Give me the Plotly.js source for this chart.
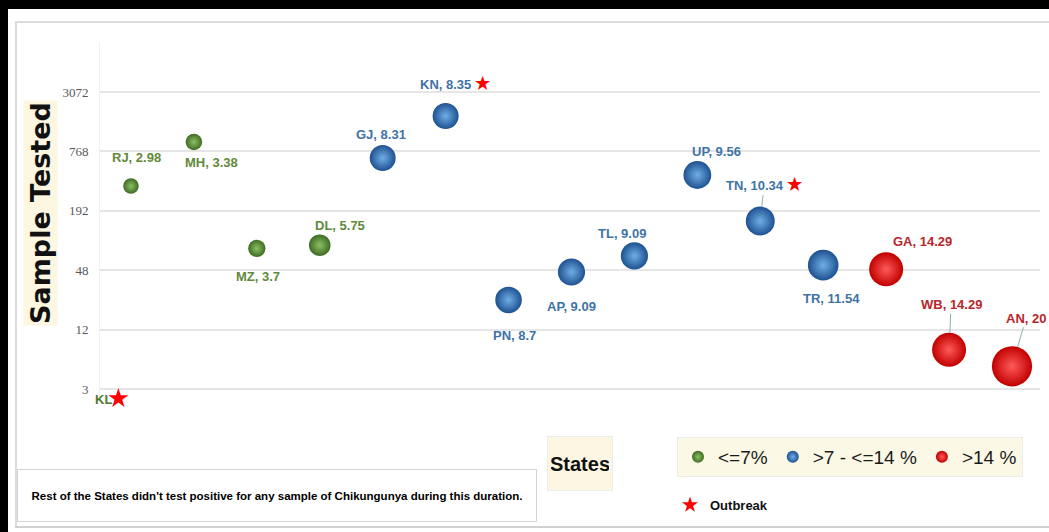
<!DOCTYPE html>
<html><head><meta charset="utf-8">
<script src="https://cdn.plot.ly/plotly-3.0.1.min.js"></script>
<style>
html,body{margin:0;padding:0;background:#fff;}
#wrap{position:relative;width:1049px;height:532px;overflow:hidden;}
#chart{position:absolute;left:0;top:0;width:1049px;height:532px;}
.ov{position:absolute;pointer-events:none;}
</style></head><body>
<div id="wrap">
<div id="chart"></div>
<div class="ov" style="left:0;top:0;width:1049px;height:9px;background:#000"></div>
<div class="ov" style="left:0;top:0;width:8px;height:532px;background:#000"></div>
<div class="ov" style="left:15px;top:21px;width:1034px;height:0;border-top:2px solid #dcdcdc"></div>
<div class="ov" style="left:15px;top:21px;width:0;height:507px;border-left:2px solid #dcdcdc"></div>
<div class="ov" style="left:15px;top:526px;width:1034px;height:0;border-top:2px solid #d0d0d0"></div>
</div>
<script>
// ---- data ----
const states = ['KL','RJ','MH','MZ','DL','GJ','KN','PN','AP','TL','UP','TN','TR','GA','WB','AN'];
const xOrder = [0.8,1,2,3,4,5,6,7,8,9,10,11,12,13,14,15];
const samplesTested = [2.4,342,956,80,86,658,1755,24,46,67,443,151,54,49,7.5,5.1];
const positivity = [null,2.98,3.38,3.7,5.75,8.31,8.35,8.7,9.09,9.09,9.56,10.34,11.54,14.29,14.29,20];
const outbreak = [1,0,0,0,0,0,1,0,0,0,0,1,0,0,0,0];
const yTicks = [3,12,48,192,768,3072];
const groupNames = ['<=7%','>7 - <=14 %','>14 %'];

// ---- styles ----
const SANS = "'Liberation Sans Narrow','Arial Narrow','Liberation Sans',Arial,sans-serif";
const groupStyle = [
  {center:'#8cc063', edge:'#3f6b24', text:'#5f8a3a'},
  {center:'#70aee6', edge:'#1e5190', text:'#3f73a6'},
  {center:'#ff5a5a', edge:'#c20000', text:'#b8262b'}
];
const labelShift = {KL:[-15,1],RJ:[6,-29],MH:[18,20],MZ:[1,28],DL:[20,-20],GJ:[-2,-24],KN:[10,-32],
  PN:[6,36],AP:[0,34],TL:[-12,-22],UP:[19,-23],TN:[4,-37],TR:[8,33],GA:[36,-28],WB:[2,-45],AN:[14,-48]};
const leader = {TN:true,WB:true,AN:true};
const K = 9; // px diameter per sqrt(%)
const sizeref = 2/(K*K);

function groupOf(p){ if(p==null) return -1; return p<=7?0:(p<=14?1:2); }

const traces = [];
groupNames.forEach((g,gi)=>{
  const idx = states.map((s,i)=>i).filter(i=>groupOf(positivity[i])===gi);
  traces.push({
    type:'scatter', mode:'markers', name:g, legend:'legend', cliponaxis:false,
    x: idx.map(i=>xOrder[i]), y: idx.map(i=>samplesTested[i]),
    text: idx.map(i=>states[i]),
    marker:{size: idx.map(i=>positivity[i]), sizemode:'area', sizeref:sizeref, opacity:1,
      color:groupStyle[gi].edge, line:{width:0},
      gradient:{type:'radial', color:groupStyle[gi].center}},
    hoverinfo:'text'
  });
});
const ob = states.map((s,i)=>i).filter(i=>outbreak[i] && positivity[i]==null);
traces.push({
  type:'scatter', mode:'markers', name:'Outbreak', legend:'legend2', cliponaxis:false,
  x: ob.map(i=>xOrder[i]), y: ob.map(i=>samplesTested[i]),
  marker:{symbol:'star', size:15, color:'#ff0000', line:{width:0}}
});

const annotations = states.map((s,i)=>{
  const gi = groupOf(positivity[i]);
  let t = s + (positivity[i]!=null ? ', ' + positivity[i] : '');
  if(outbreak[i] && positivity[i]!=null) t += ' <span style="color:#ff0000;font-size:17px">★</span>';
  const sh = labelShift[s];
  const col = gi<0 ? '#4e7a2e' : groupStyle[gi].text;
  const a = {x:xOrder[i], y:Math.log10(samplesTested[i]), xref:'x', yref:'y', text:t,
    font:{family:SANS, size:13, color:col, weight:'bold'}};
  if(leader[s]){
    const r = positivity[i]!=null ? K*Math.sqrt(positivity[i])/2 : 0;
    Object.assign(a,{showarrow:true, ax:sh[0], ay:sh[1], arrowhead:0, arrowwidth:1,
      arrowcolor:'#8fb0b0', standoff:r});
  } else {
    Object.assign(a,{showarrow:false, xshift:sh[0], yshift:-sh[1], xanchor:'center', yanchor:'middle'});
  }
  return a;
});

// paper coords helpers (plot area: x 100..1040, y 42..400 px)
const px = v => (v-100)/940, py = v => (400-v)/358;

annotations.push({xref:'paper', yref:'paper', x:px(40), y:py(213), showarrow:false,
  text:'Sample Tested', textangle:-90, xanchor:'center', yanchor:'middle',
  font:{family:"'DejaVu Sans',sans-serif", size:27, color:'#111', weight:'bold'},
  bgcolor:'#fdf6e0', borderpad:1});
annotations.push({xref:'paper', yref:'paper', x:px(580), y:py(463), showarrow:false,
  text:'States', xanchor:'center', yanchor:'middle', width:58, height:47,
  font:{family:SANS, size:20, color:'#111', weight:'bold'},
  bgcolor:'#fcf6e2', bordercolor:'#ececec', borderwidth:1, borderpad:3});
annotations.push({xref:'paper', yref:'paper', x:px(277), y:py(495.5), showarrow:false,
  text:"Rest of the States didn't test positive for any sample of Chikungunya during this duration.",
  xanchor:'center', yanchor:'middle', width:514, height:47, align:'center',
  font:{family:SANS, size:11.5, color:'#000', weight:'bold'},
  bgcolor:'#ffffff', bordercolor:'#d4d4d4', borderwidth:1, borderpad:2});

const layout = {
  width:1049, height:532,
  margin:{l:100, r:9, t:42, b:132, pad:0, autoexpand:false},
  paper_bgcolor:'#ffffff', plot_bgcolor:'#ffffff',
  showlegend:true,
  xaxis:{range:[0.508,15.445], showgrid:false, zeroline:false, showticklabels:false, showline:false, fixedrange:true},
  yaxis:{type:'log', range:[0.3656,3.9942], tickmode:'array', tickvals:yTicks, ticktext:yTicks.map(String),
    showgrid:true, gridcolor:'#e6e6e6', gridwidth:2, showline:true, linecolor:'#f0f0f0', linewidth:1,
    zeroline:false, ticks:'', ticklabelstandoff:8,
    tickfont:{family:"'Liberation Serif','DejaVu Serif',serif", size:13, color:'#595959'}},
  legend:{orientation:'h', x:px(677), y:py(437), xanchor:'left', yanchor:'top',
    bgcolor:'#fcf8e6', bordercolor:'#ececec', borderwidth:1, itemsizing:'constant',
    font:{family:SANS, size:19, color:'#1a1a1a'}, itemwidth:30, tracegroupgap:0},
  legend2:{orientation:'h', x:px(670), y:py(490), xanchor:'left', yanchor:'top',
    bgcolor:'rgba(0,0,0,0)', font:{family:SANS, size:13, color:'#111', weight:'bold'}, itemsizing:'constant'},
  annotations: annotations,
  hovermode:'closest'
};
Plotly.newPlot('chart', traces, layout, {displayModeBar:false, staticPlot:true});
</script>
</body></html>
